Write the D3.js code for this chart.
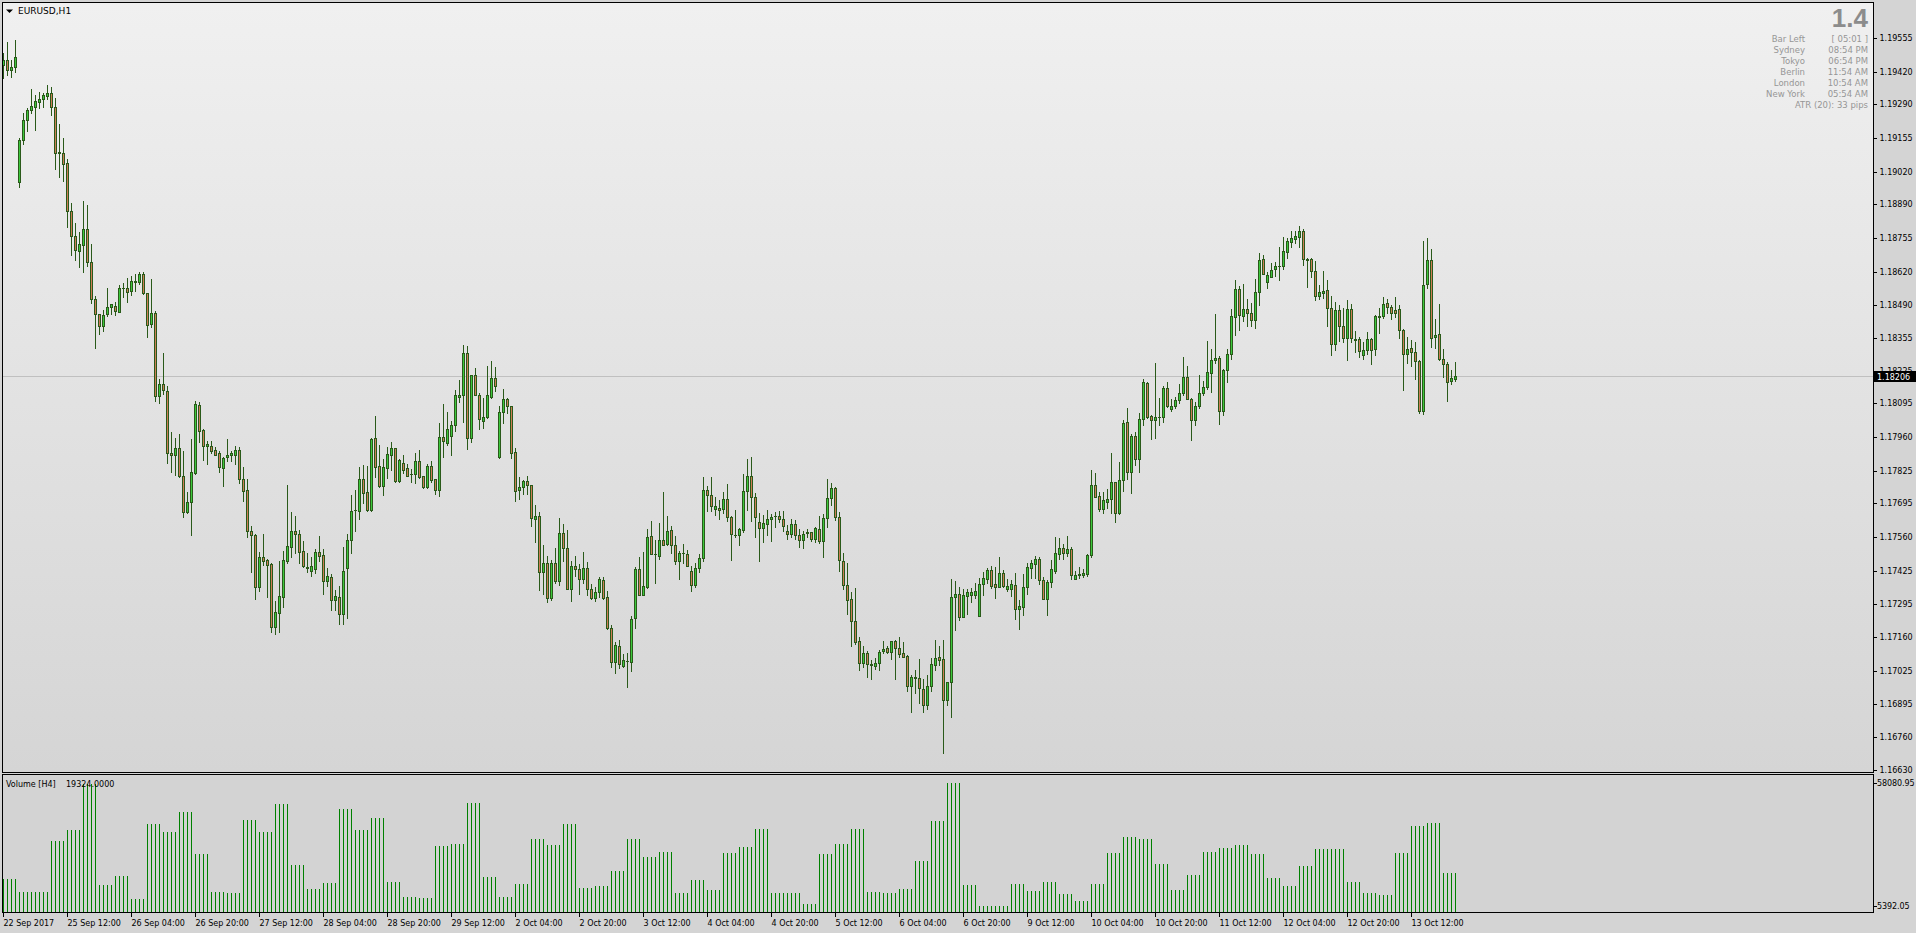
<!DOCTYPE html>
<html><head><meta charset="utf-8">
<script src="https://cdn.jsdelivr.net/npm/d3@7/dist/d3.min.js"></script>
<style>html,body{margin:0;padding:0;background:#d4d4d4;overflow:hidden}text{font-family:"DejaVu Sans",sans-serif}</style>
</head><body><svg id="c" width="1916" height="933"></svg>
<script>
// ===== DATA (EURUSD H1, 22 Sep 2017 20:00 .. 13 Oct 2017 23:00) =====
const openP = [
1.19447,1.19466,1.19428,1.19441,1.18980,1.19148,1.19226,1.19268,1.19280,1.19301,
1.19313,1.19324,1.19335,1.19279,1.19100,1.19097,1.19055,1.18865,1.18762,1.18704,
1.18728,1.18793,1.18661,1.18513,1.18454,1.18404,1.18454,1.18480,1.18485,1.18462,
1.18557,1.18557,1.18543,1.18581,1.18581,1.18613,1.18538,1.18412,1.18458,1.18124,
1.18174,1.18146,1.17896,1.17889,1.17917,1.17805,1.17660,1.17700,1.17815,1.18090,
1.17987,1.17924,1.17926,1.17909,1.17896,1.17837,1.17879,1.17889,1.17890,1.17910,
1.17792,1.17750,1.17587,1.17571,1.17360,1.17482,1.17468,1.17452,1.17203,1.17258,
1.17322,1.17466,1.17522,1.17584,1.17575,1.17504,1.17441,1.17426,1.17432,1.17500,
1.17488,1.17386,1.17400,1.17310,1.17320,1.17254,1.17438,1.17551,1.17667,1.17666,
1.17791,1.17739,1.17669,1.17955,1.17843,1.17766,1.17838,1.17890,1.17915,1.17786,
1.17855,1.17835,1.17813,1.17813,1.17863,1.17803,1.17759,1.17843,1.17791,1.17747,
1.17962,1.17938,1.17966,1.18010,1.18122,1.18127,1.18295,1.17955,1.18207,1.18127,
1.18026,1.18042,1.18122,1.18195,1.17882,1.18059,1.18111,1.18083,1.17899,1.17747,
1.17759,1.17783,1.17767,1.17634,1.17643,1.17420,1.17456,1.17316,1.17456,1.17386,
1.17579,1.17519,1.17354,1.17444,1.17432,1.17392,1.17436,1.17352,1.17316,1.17340,
1.17388,1.17320,1.17198,1.17063,1.17125,1.17047,1.17065,1.17063,1.17236,1.17432,
1.17330,1.17361,1.17567,1.17495,1.17487,1.17551,1.17534,1.17591,1.17531,1.17467,
1.17499,1.17495,1.17427,1.17370,1.17436,1.17479,1.17747,1.17727,1.17674,1.17677,
1.17671,1.17711,1.17641,1.17571,1.17568,1.17588,1.17744,1.17805,1.17720,1.17620,
1.17596,1.17612,1.17632,1.17643,1.17645,1.17632,1.17585,1.17572,1.17612,1.17568,
1.17548,1.17577,1.17580,1.17552,1.17592,1.17547,1.17636,1.17716,1.17756,1.17640,
1.17464,1.17368,1.17312,1.17224,1.17144,1.17057,1.17097,1.17053,1.17047,1.17057,
1.17106,1.17117,1.17103,1.17146,1.17117,1.17097,1.17086,1.16967,1.17001,1.16997,
1.16953,1.16889,1.16965,1.17050,1.17080,1.17072,1.16909,1.16981,1.17320,1.17332,
1.17240,1.17327,1.17331,1.17331,1.17247,1.17373,1.17395,1.17429,1.17373,1.17360,
1.17416,1.17355,1.17355,1.17369,1.17275,1.17283,1.17360,1.17439,1.17453,1.17472,
1.17388,1.17312,1.17380,1.17427,1.17493,1.17516,1.17496,1.17512,1.17392,1.17409,
1.17409,1.17415,1.17488,1.17768,1.17724,1.17672,1.17702,1.17712,1.17780,1.17656,
1.17788,1.18019,1.17819,1.17966,1.17871,1.18031,1.18175,1.18043,1.18029,1.18039,
1.18042,1.18155,1.18074,1.18083,1.18107,1.18135,1.18199,1.18111,1.18029,1.18083,
1.18138,1.18162,1.18218,1.18267,1.18275,1.18066,1.18227,1.18291,1.18442,1.18551,
1.18446,1.18471,1.18458,1.18430,1.18542,1.18671,1.18579,1.18600,1.18630,1.18642,
1.18642,1.18701,1.18741,1.18753,1.18761,1.18783,1.18670,1.18671,1.18623,1.18523,
1.18538,1.18547,1.18475,1.18334,1.18467,1.18406,1.18355,1.18471,1.18353,1.18353,
1.18290,1.18310,1.18353,1.18314,1.18442,1.18443,1.18495,1.18479,1.18468,1.18471,
1.18387,1.18294,1.18315,1.18299,1.18263,1.18066,1.18571,1.18667,1.18359,1.18371,
1.18274,1.18251,1.18186,1.18194];
const highP = [
1.19494,1.19540,1.19466,1.19547,1.19157,1.19255,1.19276,1.19350,1.19327,1.19340,
1.19335,1.19368,1.19358,1.19315,1.19210,1.19154,1.19070,1.18894,1.18815,1.18779,
1.18902,1.18887,1.18731,1.18525,1.18454,1.18469,1.18555,1.18493,1.18500,1.18569,
1.18575,1.18597,1.18603,1.18613,1.18619,1.18619,1.18538,1.18591,1.18466,1.18194,
1.18295,1.18164,1.17982,1.17957,1.17974,1.17903,1.17741,1.17954,1.18105,1.18102,
1.17991,1.17946,1.17945,1.17921,1.17906,1.17882,1.17954,1.17906,1.17923,1.17921,
1.17842,1.17794,1.17605,1.17575,1.17500,1.17573,1.17472,1.17458,1.17305,1.17465,
1.17505,1.17769,1.17661,1.17645,1.17589,1.17545,1.17496,1.17481,1.17513,1.17565,
1.17513,1.17437,1.17413,1.17348,1.17365,1.17521,1.17573,1.17729,1.17749,1.17840,
1.17848,1.17844,1.17958,1.18044,1.17928,1.17871,1.17920,1.17940,1.17915,1.17873,
1.17887,1.17851,1.17833,1.17897,1.17907,1.17806,1.17851,1.17865,1.17794,1.18016,
1.18092,1.18060,1.18024,1.18148,1.18188,1.18329,1.18324,1.18207,1.18236,1.18138,
1.18116,1.18244,1.18264,1.18239,1.18086,1.18152,1.18118,1.18083,1.17915,1.17801,
1.17789,1.17805,1.17767,1.17689,1.17659,1.17529,1.17487,1.17469,1.17517,1.17637,
1.17613,1.17589,1.17465,1.17487,1.17453,1.17501,1.17461,1.17373,1.17360,1.17402,
1.17401,1.17345,1.17210,1.17141,1.17149,1.17093,1.17096,1.17245,1.17442,1.17481,
1.17501,1.17593,1.17623,1.17549,1.17617,1.17741,1.17645,1.17605,1.17565,1.17505,
1.17533,1.17509,1.17446,1.17457,1.17493,1.17801,1.17765,1.17801,1.17720,1.17709,
1.17741,1.17772,1.17645,1.17669,1.17596,1.17813,1.17873,1.17881,1.17736,1.17656,
1.17649,1.17668,1.17653,1.17661,1.17664,1.17665,1.17609,1.17633,1.17629,1.17592,
1.17584,1.17592,1.17583,1.17601,1.17645,1.17653,1.17793,1.17777,1.17761,1.17660,
1.17497,1.17457,1.17342,1.17358,1.17162,1.17126,1.17106,1.17070,1.17076,1.17110,
1.17146,1.17126,1.17146,1.17150,1.17163,1.17142,1.17090,1.17010,1.17030,1.17074,
1.16994,1.17010,1.17076,1.17150,1.17126,1.17150,1.16981,1.17394,1.17386,1.17362,
1.17354,1.17355,1.17359,1.17377,1.17396,1.17420,1.17437,1.17445,1.17440,1.17481,
1.17429,1.17395,1.17389,1.17416,1.17309,1.17413,1.17459,1.17469,1.17484,1.17480,
1.17403,1.17389,1.17471,1.17562,1.17558,1.17533,1.17565,1.17522,1.17425,1.17440,
1.17433,1.17493,1.17829,1.17815,1.17740,1.17741,1.17753,1.17897,1.17782,1.17861,
1.18029,1.18077,1.17971,1.17981,1.18057,1.18191,1.18182,1.18049,1.18255,1.18117,
1.18164,1.18180,1.18111,1.18121,1.18172,1.18280,1.18243,1.18115,1.18102,1.18208,
1.18183,1.18344,1.18311,1.18452,1.18285,1.18233,1.18311,1.18471,1.18587,1.18566,
1.18572,1.18512,1.18496,1.18591,1.18696,1.18687,1.18620,1.18654,1.18660,1.18720,
1.18760,1.18756,1.18783,1.18784,1.18804,1.18792,1.18674,1.18676,1.18664,1.18568,
1.18624,1.18587,1.18524,1.18500,1.18488,1.18475,1.18508,1.18492,1.18384,1.18359,
1.18339,1.18380,1.18355,1.18448,1.18476,1.18522,1.18512,1.18488,1.18520,1.18490,
1.18392,1.18361,1.18349,1.18341,1.18269,1.18744,1.18756,1.18712,1.18432,1.18492,
1.18313,1.18261,1.18229,1.18261];
const lowP = [
1.19397,1.19408,1.19400,1.19420,1.18960,1.19132,1.19182,1.19257,1.19187,1.19277,
1.19280,1.19313,1.19249,1.19031,1.18999,1.18983,1.18801,1.18687,1.18669,1.18641,
1.18620,1.18645,1.18497,1.18317,1.18373,1.18384,1.18443,1.18451,1.18448,1.18462,
1.18521,1.18500,1.18528,1.18544,1.18572,1.18532,1.18360,1.18401,1.18104,1.18096,
1.18132,1.17856,1.17820,1.17808,1.17800,1.17641,1.17657,1.17571,1.17812,1.17940,
1.17870,1.17851,1.17895,1.17887,1.17820,1.17763,1.17864,1.17864,1.17854,1.17777,
1.17703,1.17563,1.17422,1.17314,1.17346,1.17449,1.17322,1.17183,1.17172,1.17183,
1.17282,1.17458,1.17482,1.17498,1.17458,1.17440,1.17422,1.17405,1.17418,1.17466,
1.17334,1.17366,1.17270,1.17270,1.17214,1.17214,1.17238,1.17498,1.17586,1.17634,
1.17698,1.17665,1.17665,1.17802,1.17761,1.17730,1.17798,1.17829,1.17782,1.17782,
1.17815,1.17805,1.17781,1.17775,1.17797,1.17757,1.17757,1.17779,1.17734,1.17726,
1.17882,1.17930,1.17890,1.17986,1.18102,1.18022,1.17914,1.17940,1.18127,1.17994,
1.17996,1.18035,1.18118,1.18146,1.17878,1.18018,1.18058,1.17878,1.17706,1.17714,
1.17733,1.17733,1.17606,1.17542,1.17349,1.17334,1.17302,1.17309,1.17378,1.17369,
1.17465,1.17352,1.17306,1.17405,1.17334,1.17376,1.17329,1.17314,1.17306,1.17322,
1.17313,1.17194,1.17043,1.17019,1.17037,1.17043,1.16963,1.17027,1.17198,1.17329,
1.17328,1.17358,1.17493,1.17378,1.17474,1.17529,1.17531,1.17499,1.17453,1.17392,
1.17456,1.17445,1.17346,1.17362,1.17420,1.17466,1.17666,1.17663,1.17647,1.17634,
1.17658,1.17626,1.17471,1.17560,1.17531,1.17580,1.17667,1.17623,1.17563,1.17467,
1.17540,1.17571,1.17547,1.17603,1.17621,1.17587,1.17555,1.17563,1.17552,1.17520,
1.17516,1.17560,1.17547,1.17543,1.17539,1.17480,1.17600,1.17687,1.17627,1.17427,
1.17352,1.17252,1.17127,1.17134,1.17031,1.17043,1.17001,1.16993,1.17035,1.17031,
1.17097,1.17097,1.17072,1.16993,1.17080,1.17080,1.16947,1.16863,1.16937,1.16897,
1.16863,1.16875,1.16947,1.17030,1.17049,1.16697,1.16890,1.16843,1.17190,1.17230,
1.17240,1.17255,1.17303,1.17316,1.17247,1.17329,1.17377,1.17356,1.17319,1.17360,
1.17360,1.17345,1.17325,1.17235,1.17195,1.17251,1.17333,1.17399,1.17399,1.17375,
1.17312,1.17251,1.17363,1.17419,1.17472,1.17472,1.17484,1.17392,1.17392,1.17396,
1.17403,1.17407,1.17480,1.17720,1.17666,1.17658,1.17678,1.17658,1.17622,1.17653,
1.17745,1.17792,1.17736,1.17849,1.17822,1.18010,1.18035,1.17954,1.17958,1.18007,
1.18022,1.18081,1.18066,1.18075,1.18098,1.18129,1.18111,1.17950,1.18007,1.18075,
1.18127,1.18151,1.18142,1.18258,1.18014,1.18050,1.18182,1.18274,1.18370,1.18390,
1.18426,1.18406,1.18404,1.18398,1.18490,1.18610,1.18556,1.18598,1.18602,1.18586,
1.18630,1.18674,1.18721,1.18737,1.18721,1.18646,1.18562,1.18598,1.18510,1.18514,
1.18518,1.18404,1.18290,1.18310,1.18346,1.18342,1.18270,1.18342,1.18302,1.18279,
1.18274,1.18291,1.18253,1.18290,1.18378,1.18438,1.18458,1.18432,1.18440,1.18357,
1.18149,1.18257,1.18246,1.18194,1.18058,1.18054,1.18558,1.18321,1.18318,1.18269,
1.18202,1.18106,1.18174,1.18186];
const closeP = [
1.19466,1.19428,1.19441,1.19481,1.19147,1.19226,1.19269,1.19282,1.19302,1.19313,
1.19326,1.19335,1.19280,1.19097,1.19097,1.19053,1.18865,1.18764,1.18708,1.18731,
1.18793,1.18661,1.18513,1.18454,1.18404,1.18449,1.18482,1.18493,1.18465,1.18557,
1.18558,1.18541,1.18585,1.18585,1.18613,1.18535,1.18409,1.18458,1.18124,1.18174,
1.18150,1.17896,1.17890,1.17917,1.17803,1.17660,1.17700,1.17820,1.18093,1.17984,
1.17924,1.17934,1.17906,1.17890,1.17840,1.17878,1.17890,1.17895,1.17910,1.17792,
1.17745,1.17584,1.17571,1.17362,1.17482,1.17464,1.17448,1.17203,1.17260,1.17324,
1.17468,1.17524,1.17584,1.17574,1.17502,1.17446,1.17438,1.17444,1.17500,1.17486,
1.17386,1.17404,1.17310,1.17324,1.17254,1.17424,1.17551,1.17663,1.17670,1.17791,
1.17738,1.17669,1.17951,1.17842,1.17765,1.17839,1.17891,1.17915,1.17786,1.17867,
1.17830,1.17806,1.17811,1.17863,1.17799,1.17759,1.17843,1.17790,1.17747,1.17962,
1.17943,1.17994,1.18010,1.18127,1.18127,1.18295,1.17955,1.18207,1.18127,1.18031,
1.18039,1.18127,1.18195,1.18165,1.18059,1.18111,1.18083,1.17895,1.17743,1.17759,
1.17783,1.17767,1.17635,1.17643,1.17420,1.17456,1.17316,1.17456,1.17385,1.17579,
1.17519,1.17354,1.17444,1.17432,1.17392,1.17436,1.17352,1.17318,1.17340,1.17392,
1.17318,1.17198,1.17063,1.17128,1.17052,1.17068,1.17066,1.17232,1.17432,1.17330,
1.17364,1.17563,1.17495,1.17493,1.17551,1.17531,1.17587,1.17531,1.17467,1.17499,
1.17497,1.17447,1.17368,1.17436,1.17479,1.17747,1.17727,1.17683,1.17685,1.17670,
1.17711,1.17639,1.17572,1.17568,1.17592,1.17744,1.17805,1.17720,1.17640,1.17596,
1.17617,1.17632,1.17640,1.17645,1.17632,1.17604,1.17572,1.17612,1.17568,1.17548,
1.17572,1.17580,1.17552,1.17596,1.17544,1.17636,1.17716,1.17756,1.17640,1.17468,
1.17368,1.17308,1.17224,1.17143,1.17057,1.17097,1.17053,1.17050,1.17057,1.17101,
1.17114,1.17103,1.17146,1.17117,1.17095,1.17083,1.16967,1.17001,1.16998,1.16957,
1.16889,1.16965,1.17053,1.17076,1.17071,1.16909,1.16981,1.17320,1.17332,1.17240,
1.17328,1.17340,1.17340,1.17344,1.17373,1.17397,1.17429,1.17367,1.17360,1.17416,
1.17367,1.17365,1.17373,1.17275,1.17284,1.17361,1.17441,1.17456,1.17472,1.17388,
1.17312,1.17381,1.17432,1.17496,1.17516,1.17496,1.17512,1.17411,1.17408,1.17412,
1.17416,1.17488,1.17768,1.17720,1.17672,1.17709,1.17712,1.17780,1.17656,1.17788,
1.18015,1.17819,1.17966,1.17871,1.18031,1.18179,1.18039,1.18029,1.18039,1.18041,
1.18155,1.18083,1.18085,1.18107,1.18135,1.18199,1.18111,1.18029,1.18083,1.18138,
1.18162,1.18219,1.18267,1.18275,1.18066,1.18227,1.18291,1.18443,1.18551,1.18447,
1.18471,1.18458,1.18427,1.18539,1.18667,1.18612,1.18607,1.18627,1.18643,1.18643,
1.18703,1.18743,1.18755,1.18764,1.18783,1.18670,1.18667,1.18623,1.18523,1.18539,
1.18544,1.18475,1.18331,1.18467,1.18406,1.18355,1.18471,1.18355,1.18350,1.18306,
1.18309,1.18353,1.18310,1.18443,1.18444,1.18491,1.18479,1.18458,1.18458,1.18387,
1.18291,1.18311,1.18299,1.18263,1.18066,1.18567,1.18667,1.18355,1.18367,1.18274,
1.18251,1.18182,1.18195,1.18206];
// H4 volume, one value per 4 H1 bars
const volumeH4 = [
16959,11252,11252,33238,37950,57600,14388,18244,8391,40521,
37094,45662,27669,11390,10818,42234,37094,49089,22956,12675,
15245,46947,37950,43091,15674,9248,8819,31096,31953,49517,
17816,9248,14817,34095,31524,40521,13103,13960,20386,34095,
26384,28526,10961,16530,12246,28097,30668,38379,10961,10961,
6249,27669,31953,38379,11390,10961,12675,24670,41806,58080.95,
14388,5392.05,5392.05,14817,11818,15674,10533,7534,14817,28097,
34952,34095,23385,12246,18672,28526,30239,31524,27669,17387,
13960,22528,29811,29811,15674,10961,10104,28097,39664,40949,
19324];
const priceTicks = [1.19555,1.19420,1.19290,1.19155,1.19020,1.18890,1.18755,1.18620,1.18490,1.18355,1.18225,1.18095,1.17960,1.17825,1.17695,1.17560,1.17425,1.17295,1.17160,1.17025,1.16895,1.16760,1.16630];
const volumeTicks = [5392.05, 58080.95];
const timeLabels = ["22 Sep 2017","25 Sep 12:00","26 Sep 04:00","26 Sep 20:00","27 Sep 12:00","28 Sep 04:00","28 Sep 20:00","29 Sep 12:00","2 Oct 04:00","2 Oct 20:00","3 Oct 12:00","4 Oct 04:00","4 Oct 20:00","5 Oct 12:00","6 Oct 04:00","6 Oct 20:00","9 Oct 12:00","10 Oct 04:00","10 Oct 20:00","11 Oct 12:00","12 Oct 04:00","12 Oct 20:00","13 Oct 12:00"];
const timeLabelBars = [0,16,32,48,64,80,96,112,128,144,160,176,192,208,224,240,256,272,288,304,320,336,352];
const lastPrice = 1.18206;
const infoNames = ["Bar Left","Sydney","Tokyo","Berlin","London","New York"];
const infoValues = ["[ 05:01 ]","08:54 PM","06:54 PM","11:54 AM","10:54 AM","05:54 AM"];
const atrText = "ATR (20): 33 pips";
const bigValue = "1.4";

// ===== LAYOUT =====
const svg = d3.select('#c');
const L = 2.5, R = 1873.5, mT = 2.5, mB = 772.5, vT = 774.5, vB = 912.5;
const n = openP.length;
const FS = 8;

const defs = svg.append('defs');
const grad = defs.append('linearGradient').attr('id','bg').attr('x1',0).attr('y1',0).attr('x2',0).attr('y2',1);
grad.append('stop').attr('offset','0%').attr('stop-color','#f0f0f0');
grad.append('stop').attr('offset','100%').attr('stop-color','#d5d5d5');
defs.append('clipPath').attr('id','mclip').append('rect').attr('x',L).attr('y',mT).attr('width',R-L).attr('height',mB-mT);

svg.append('rect').attr('width',1916).attr('height',933).attr('fill','#d4d4d4');
svg.append('rect').attr('x',L).attr('y',mT).attr('width',R-L).attr('height',mB-mT).attr('fill','url(#bg)');
svg.append('rect').attr('x',L).attr('y',vT).attr('width',R-L).attr('height',vB-vT).attr('fill','#d3d3d3');

const x = d3.scaleLinear().domain([0, n-1]).range([3.5, 3.5 + 4*(n-1)]);
const y = d3.scaleLinear().domain([1.16630, 1.19555]).range([770, 38]);
const yv = d3.scaleLinear().domain([5392.05, 58080.95]).range([906, 783]);
const ry = v => Math.round(y(v));

// current price line
svg.append('line').attr('x1',L).attr('x2',R).attr('y1',ry(lastPrice)+0.5).attr('y2',ry(lastPrice)+0.5)
  .attr('stroke','#c0c0c0').attr('stroke-width',1);

// candles
const bars = d3.range(n).map(i => ({i, o:openP[i], h:highP[i], l:lowP[i], c:closeP[i]}));
const WICK = '#2a5a1a', UP = '#3cc83c', DN = '#cd7d55';
const cg = svg.append('g').attr('clip-path','url(#mclip)').attr('shape-rendering','crispEdges');
cg.selectAll('line.w').data(bars).join('line').attr('class','w')
  .attr('x1', d => x(d.i)).attr('x2', d => x(d.i))
  .attr('y1', d => ry(d.h)).attr('y2', d => ry(d.l)+1)
  .attr('stroke', WICK).attr('stroke-width',1);
cg.selectAll('rect.b').data(bars).join('rect').attr('class','b')
  .attr('x', d => x(d.i)-1.5)
  .attr('y', d => ry(Math.max(d.o,d.c))+0.5)
  .attr('width', 2)
  .attr('height', d => Math.max(0.01, ry(Math.min(d.o,d.c)) - ry(Math.max(d.o,d.c))))
  .attr('fill', d => d.c >= d.o ? UP : DN)
  .attr('stroke', WICK).attr('stroke-width',1);

// volume bars
const vg = svg.append('g').attr('shape-rendering','crispEdges');
vg.selectAll('line').data(bars).join('line')
  .attr('x1', d => x(d.i)).attr('x2', d => x(d.i))
  .attr('y1', vB-0.5).attr('y2', d => Math.round(yv(volumeH4[Math.floor(d.i/4)])))
  .attr('stroke','#008000').attr('stroke-width',1);

// pane borders
svg.append('rect').attr('x',L).attr('y',mT).attr('width',R-L).attr('height',mB-mT).attr('fill','none').attr('stroke','#000').attr('shape-rendering','crispEdges');
svg.append('rect').attr('x',L).attr('y',vT).attr('width',R-L).attr('height',vB-vT).attr('fill','none').attr('stroke','#000').attr('shape-rendering','crispEdges');

// price axis
const yAx = d3.axisRight(y.copy().interpolate(d3.interpolateRound)).tickValues(priceTicks)
  .tickSize(3).tickPadding(3).tickFormat(d3.format('.5f')).offset(0.5);
const ga = svg.append('g').attr('transform',`translate(${R},0)`).call(yAx);
ga.select('.domain').remove();
ga.selectAll('line').attr('shape-rendering','crispEdges');
ga.selectAll('text').attr('font-size',FS).attr('font-family','DejaVu Sans').attr('fill','#000');

// volume axis
const vAx = d3.axisRight(yv.copy().interpolate(d3.interpolateRound)).tickValues(volumeTicks)
  .tickSize(3).tickPadding(0.5).tickFormat(d3.format('.2f')).offset(0.5);
const gv = svg.append('g').attr('transform',`translate(${R},0)`).call(vAx);
gv.select('.domain').remove();
gv.selectAll('line').attr('shape-rendering','crispEdges');
gv.selectAll('text').attr('font-size',FS).attr('font-family','DejaVu Sans').attr('fill','#000')
  .attr('letter-spacing','-0.1');

// time axis
const xAx = d3.axisBottom(x).tickValues(timeLabelBars).tickSize(4).offset(0)
  .tickFormat((d,k) => timeLabels[k]);
const gx = svg.append('g').attr('transform',`translate(0,${vB})`).call(xAx);
gx.select('.domain').remove();
gx.selectAll('line').attr('shape-rendering','crispEdges');
gx.selectAll('text').attr('font-size',FS).attr('font-family','DejaVu Sans').attr('fill','#000')
  .attr('text-anchor','start').attr('x',0).attr('y',13.5).attr('dy',null);

// current price tag
const yp = ry(lastPrice);
svg.append('rect').attr('x',1874).attr('y',yp-5).attr('width',42).attr('height',11).attr('fill','#000');
svg.append('text').attr('x',1877).attr('y',yp+3.5).attr('font-size',FS).attr('fill','#fff').text(d3.format('.5f')(lastPrice));

// title
svg.append('path').attr('d','M6,9.5 L13,9.5 L9.5,13 Z').attr('fill','#000');
svg.append('text').attr('x',18).attr('y',14).attr('font-size',9).attr('fill','#000').text('EURUSD,H1');

// volume label
svg.append('text').attr('x',6).attr('y',787).attr('font-size',FS).attr('fill','#000').text('Volume [H4]');
svg.append('text').attr('x',66).attr('y',787).attr('font-size',FS).attr('fill','#000').text(d3.format('.4f')(volumeH4[volumeH4.length-1]));

// info panel
svg.append('text').attr('x',1868).attr('y',27).attr('text-anchor','end')
  .attr('font-weight','bold').attr('font-size',26).attr('fill','#8c8c8c')
  .style('font-family','"Liberation Sans",sans-serif').text(bigValue);
const info = svg.append('g').attr('fill','#969696').attr('font-size',8.5);
infoNames.forEach((t,k) => {
  info.append('text').attr('x',1805).attr('y',42+k*11).attr('text-anchor','end').text(t);
  info.append('text').attr('x',1868).attr('y',42+k*11).attr('text-anchor','end').text(infoValues[k]);
});
info.append('text').attr('x',1868).attr('y',42+6*11).attr('text-anchor','end').text(atrText);
</script></body></html>
